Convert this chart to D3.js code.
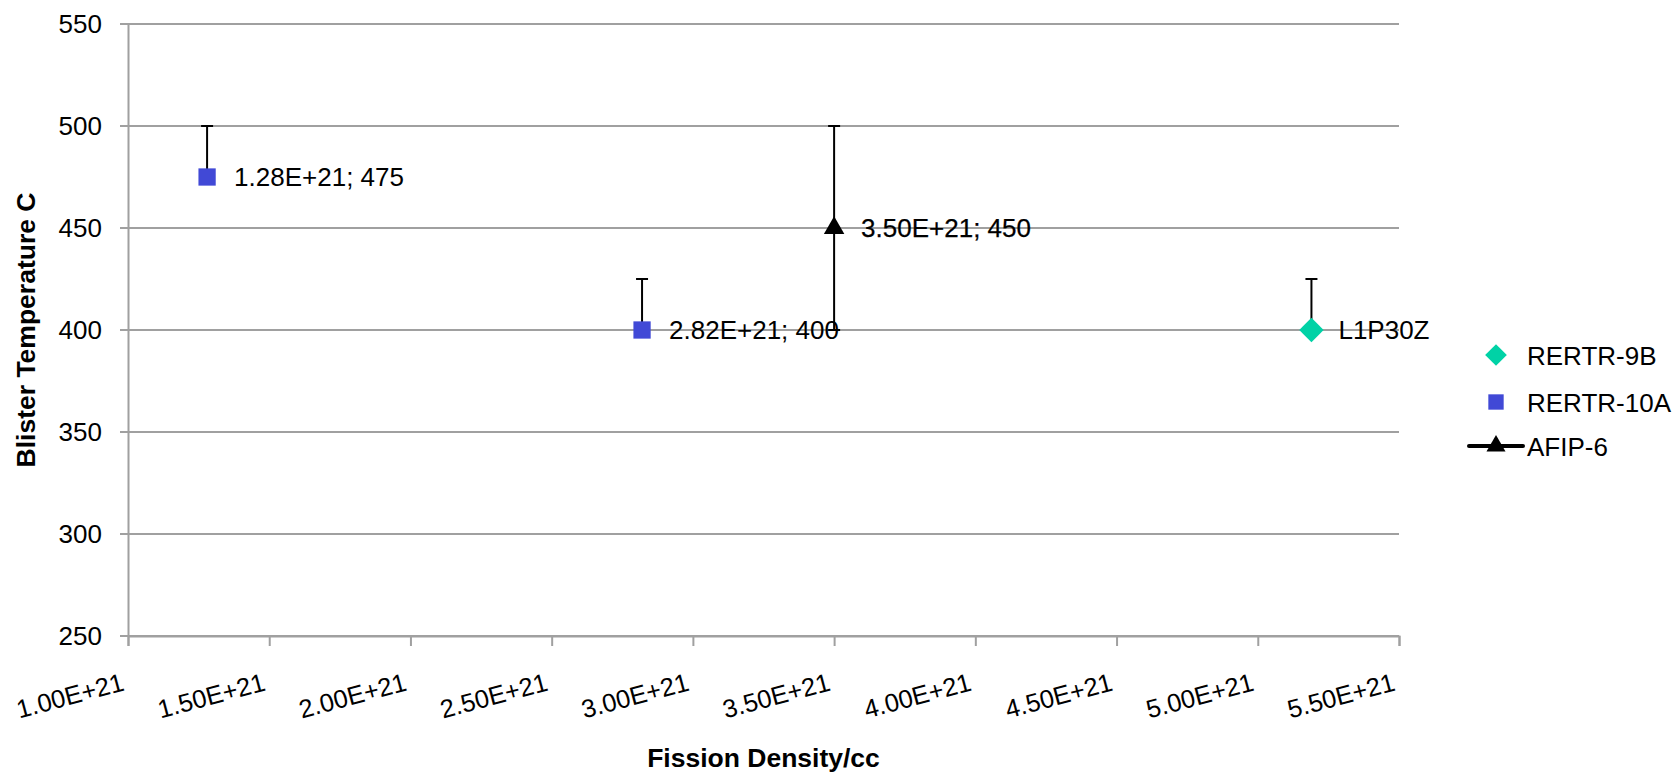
<!DOCTYPE html>
<html>
<head>
<meta charset="utf-8">
<script src="https://cdn.jsdelivr.net/npm/d3@7"></script>
<style>
    body { margin: 0; background: #fff; }
    svg { display: block; font-family: "Liberation Sans", Arial, sans-serif; }
</style>
</head>
<body>
<svg></svg>
<script>
// Series data
let seriesNames = ['RERTR-9B', 'RERTR-10A', 'AFIP-6']
let seriesColors = ['#00d2a6', '#4149d6', '#000000']
let seriesShapes = ['diamond', 'square', 'triangle']

let rertr9bX = [5.19e21]
let rertr9bY = [400]
let rertr9bErrUp = [25]
let rertr9bErrDown = [0]
let rertr9bLabels = ['L1P30Z']

let rertr10aX = [1.28e21, 2.82e21]
let rertr10aY = [475, 400]
let rertr10aErrUp = [25, 25]
let rertr10aErrDown = [0, 0]
let rertr10aLabels = [null, null]

let afip6X = [3.50e21]
let afip6Y = [450]
let afip6ErrUp = [50]
let afip6ErrDown = [50]
let afip6Labels = [null]

let xTicks = [1e21, 1.5e21, 2e21, 2.5e21, 3e21, 3.5e21, 4e21, 4.5e21, 5e21, 5.5e21]
let yTicks = [250, 300, 350, 400, 450, 500, 550]

let build = (xs, ys, up, down, labels) => xs.map((x, i) => ({
    x: x, y: ys[i], up: up[i], down: down[i], label: labels[i]
}))
let series = [
    build(rertr9bX, rertr9bY, rertr9bErrUp, rertr9bErrDown, rertr9bLabels),
    build(rertr10aX, rertr10aY, rertr10aErrUp, rertr10aErrDown, rertr10aLabels),
    build(afip6X, afip6Y, afip6ErrUp, afip6ErrDown, afip6Labels)
]

// Canvas setup
let width = 1677
let height = 774
let svg = d3.select('svg').attr('width', width).attr('height', height)

let plotLeft = 128, plotRight = 1399, plotTop = 24, plotBottom = 636

let xScale = d3.scaleLinear().domain([1e21, 5.5e21]).range([plotLeft, plotRight])
let yScale = d3.scaleLinear().domain([250, 550]).range([plotBottom, plotTop])

// gridlines
svg.append('g')
    .selectAll('line')
    .data(yTicks)
    .enter()
    .append('line')
    .attr('x1', plotLeft - 8)
    .attr('x2', plotRight)
    .attr('y1', d => yScale(d))
    .attr('y2', d => yScale(d))
    .attr('stroke', '#a0a0a0')
    .attr('stroke-width', 2)

// y axis
let yAxis = d3.axisLeft(yScale).tickValues(yTicks).tickSize(0).tickPadding(26)
let yAxisG = svg.append('g')
    .attr('id', 'y-axis')
    .attr('transform', 'translate(' + plotLeft + ',0)')
    .call(yAxis)
yAxisG.select('.domain').attr('stroke', '#a0a0a0').attr('stroke-width', 2)
yAxisG.selectAll('text')
    .attr('font-size', 26)
    .attr('fill', '#000')
    .attr('font-family', '"Liberation Sans", Arial, sans-serif')

// x axis
let fmtTick = v => (v / 1e21).toFixed(2) + 'E+21'
let xAxis = d3.axisBottom(xScale).tickValues(xTicks).tickSize(10).tickFormat(fmtTick)
let xAxisG = svg.append('g')
    .attr('id', 'x-axis')
    .attr('transform', 'translate(0,' + plotBottom + ')')
    .call(xAxis)
xAxisG.select('.domain').attr('stroke', '#a0a0a0').attr('stroke-width', 2)
xAxisG.selectAll('.tick line').attr('stroke', '#a0a0a0').attr('stroke-width', 2)
xAxisG.selectAll('text')
    .attr('font-size', 25.5)
    .attr('fill', '#000')
    .attr('font-family', '"Liberation Sans", Arial, sans-serif')
    .attr('text-anchor', 'end')
    .attr('y', 0)
    .attr('dy', 0)
    .attr('transform', 'translate(-3,54) rotate(-15)')

// axis titles
svg.append('text')
    .attr('x', (plotLeft + plotRight) / 2)
    .attr('y', 767)
    .attr('text-anchor', 'middle')
    .attr('font-size', 26.5)
    .attr('font-weight', 'bold')
    .text('Fission Density/cc')

svg.append('text')
    .attr('transform', 'translate(35,330) rotate(-90)')
    .attr('text-anchor', 'middle')
    .attr('font-size', 26.5)
    .attr('font-weight', 'bold')
    .text('Blister Temperature C')

let symbolFor = (shape, size) => {
    let type = shape === 'diamond' ? d3.symbolDiamond2 : shape === 'square' ? d3.symbolSquare2 : d3.symbolTriangle2
    return d3.symbol().type(type).size(size)()
}

// error bars, markers and labels
series.forEach((pts, s) => {
    let g = svg.append('g')
    pts.forEach(d => {
        let cx = xScale(d.x)
        let yTop = yScale(d.y + d.up)
        let yBot = yScale(d.y - d.down)
        g.append('line')
            .attr('x1', cx).attr('x2', cx)
            .attr('y1', yTop).attr('y2', yBot)
            .attr('stroke', '#000').attr('stroke-width', 2)
        if (d.up > 0) {
            g.append('line')
                .attr('x1', cx - 6).attr('x2', cx + 6)
                .attr('y1', yTop).attr('y2', yTop)
                .attr('stroke', '#000').attr('stroke-width', 2)
        }
        if (d.down > 0) {
            g.append('line')
                .attr('x1', cx - 6).attr('x2', cx + 6)
                .attr('y1', yBot).attr('y2', yBot)
                .attr('stroke', '#000').attr('stroke-width', 2)
        }
    })
    g.selectAll('path')
        .data(pts)
        .enter()
        .append('path')
        .attr('d', symbolFor(seriesShapes[s], seriesShapes[s] === 'triangle' ? 300 : 380))
        .attr('transform', d => 'translate(' + xScale(d.x) + ',' + yScale(d.y) + ')')
        .attr('fill', seriesColors[s])
    // the AFIP-6 label is drawn twice in the original, so it looks a bit heavier
    g.selectAll('text')
        .data(pts)
        .enter()
        .append('text')
        .attr('x', d => xScale(d.x) + 27)
        .attr('y', d => yScale(d.y) + 9)
        .attr('font-size', 26)
        .attr('stroke', seriesShapes[s] === 'triangle' ? '#000' : 'none')
        .attr('stroke-width', 0.25)
        .text(d => d.label ? d.label : d.x.toExponential(2).toUpperCase() + '; ' + d.y)
})

// legend
let legendY = [355, 402, 446]
let legend = svg.append('g')
seriesNames.forEach((name, i) => {
    let lx = 1496
    if (seriesShapes[i] === 'triangle') {
        legend.append('line')
            .attr('x1', lx - 27).attr('x2', lx + 27)
            .attr('y1', legendY[i]).attr('y2', legendY[i])
            .attr('stroke', '#000').attr('stroke-width', 4)
            .attr('stroke-linecap', 'round')
    }
    legend.append('path')
        .attr('d', symbolFor(seriesShapes[i], seriesShapes[i] === 'triangle' ? 260 : 300))
        .attr('transform', 'translate(' + lx + ',' + legendY[i] + ')')
        .attr('fill', seriesColors[i])
    legend.append('text')
        .attr('x', 1527)
        .attr('y', legendY[i] + 10)
        .attr('font-size', 26)
        .text(name)
})
</script>
</body>
</html>
